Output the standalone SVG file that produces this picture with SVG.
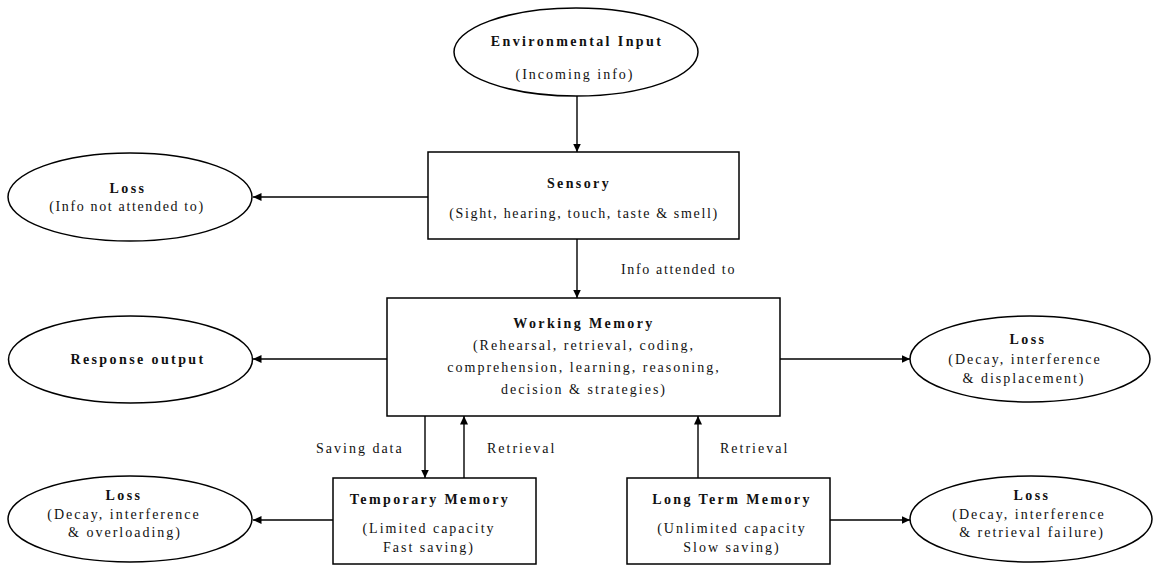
<svg xmlns="http://www.w3.org/2000/svg" width="1153" height="567" viewBox="0 0 1153 567">
<style>
  .shape { fill: #ffffff; stroke: #000000; stroke-width: 1.5; }
  .conn { stroke: #000000; stroke-width: 1.4; fill: none; marker-end: url(#arrow); }
  text { font-family: "Liberation Serif", "Times New Roman", serif; font-size: 14px; fill: #111111; }
  .b { font-weight: bold; letter-spacing: 2.4px; }
  .r { letter-spacing: 2px; }
  .t { letter-spacing: 1.65px; }
  .m { text-anchor: middle; }
</style>
<defs>
  <marker id="arrow" markerUnits="userSpaceOnUse" markerWidth="9" markerHeight="8" refX="8.5" refY="4" orient="auto">
    <path d="M0,0 L8.5,4 L0,8 z" fill="#000000"/>
  </marker>
</defs>
<rect width="1153" height="567" fill="#ffffff"/>

<g id="connectors">
  <line class="conn" x1="577" y1="96" x2="577" y2="152"/>
  <line class="conn" x1="428" y1="197" x2="253" y2="197"/>
  <line class="conn" x1="577" y1="239" x2="577" y2="298"/>
  <line class="conn" x1="387" y1="359" x2="253" y2="359"/>
  <line class="conn" x1="780" y1="359" x2="910" y2="359"/>
  <line class="conn" x1="425" y1="416" x2="425" y2="478"/>
  <line class="conn" x1="464" y1="478" x2="464" y2="416"/>
  <line class="conn" x1="698" y1="478" x2="698" y2="416"/>
  <line class="conn" x1="333" y1="520" x2="253" y2="520"/>
  <line class="conn" x1="830" y1="520" x2="910" y2="520"/>
  <text class="t" x="621" y="274">Info attended to</text>
  <text class="r" x="316" y="453">Saving data</text>
  <text class="r" x="487" y="453">Retrieval</text>
  <text class="r" x="720" y="453">Retrieval</text>
</g>

<g id="environmental-input">
  <ellipse class="shape" cx="576" cy="52" rx="122" ry="44"/>
  <text class="b m" x="577" y="46">Environmental Input</text>
  <text class="r m" x="575" y="79">(Incoming info)</text>
</g>

<g id="sensory">
  <rect class="shape" x="428" y="152" width="311" height="87"/>
  <text class="b m" x="579" y="188">Sensory</text>
  <text class="t m" x="584" y="218">(Sight, hearing, touch, taste &amp; smell)</text>
</g>

<g id="loss-not-attended">
  <ellipse class="shape" cx="130" cy="197" rx="122" ry="44"/>
  <text class="b m" x="128" y="193">Loss</text>
  <text class="t m" x="127" y="211">(Info not attended to)</text>
</g>

<g id="working-memory">
  <rect class="shape" x="387" y="298" width="393" height="118"/>
  <text class="b m" x="584" y="328">Working Memory</text>
  <text class="r m" x="584" y="350">(Rehearsal, retrieval, coding,</text>
  <text class="r m" x="584" y="372">comprehension, learning, reasoning,</text>
  <text class="r m" x="584" y="394">decision &amp; strategies)</text>
</g>

<g id="response-output">
  <ellipse class="shape" cx="130.5" cy="359.5" rx="122" ry="43.5"/>
  <text class="b m" x="138" y="364">Response output</text>
</g>

<g id="loss-displacement">
  <ellipse class="shape" cx="1030" cy="359" rx="120" ry="43"/>
  <text class="b m" x="1028" y="344">Loss</text>
  <text class="r m" x="1025" y="364">(Decay, interference</text>
  <text class="r m" x="1024" y="383">&amp; displacement)</text>
</g>

<g id="temporary-memory">
  <rect class="shape" x="333" y="478" width="203" height="86"/>
  <text class="b m" x="430" y="504">Temporary Memory</text>
  <text class="r m" x="429" y="533">(Limited capacity</text>
  <text class="r m" x="429" y="552">Fast saving)</text>
</g>

<g id="long-term-memory">
  <rect class="shape" x="627" y="478" width="203" height="86"/>
  <text class="b m" x="732" y="504">Long Term Memory</text>
  <text class="r m" x="732" y="533">(Unlimited capacity</text>
  <text class="r m" x="732" y="552">Slow saving)</text>
</g>

<g id="loss-overloading">
  <ellipse class="shape" cx="130" cy="519" rx="122" ry="43"/>
  <text class="b m" x="124" y="500">Loss</text>
  <text class="r m" x="124" y="519">(Decay, interference</text>
  <text class="r m" x="125" y="537">&amp; overloading)</text>
</g>

<g id="loss-retrieval-failure">
  <ellipse class="shape" cx="1031" cy="519" rx="121" ry="43"/>
  <text class="b m" x="1032" y="500">Loss</text>
  <text class="r m" x="1029" y="519">(Decay, interference</text>
  <text class="r m" x="1032" y="537">&amp; retrieval failure)</text>
</g>
</svg>
